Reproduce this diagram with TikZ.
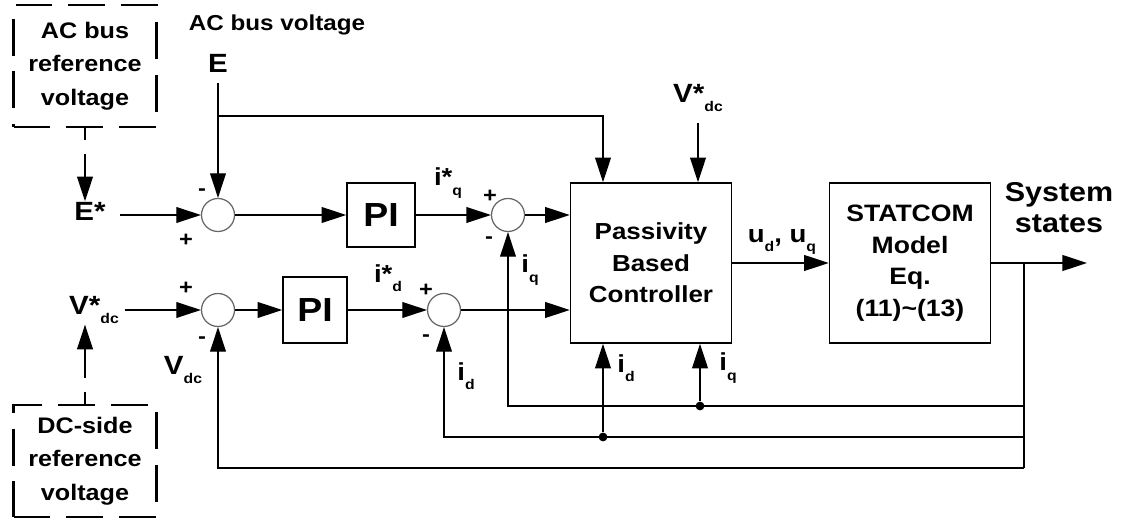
\documentclass[tikz,border=0pt]{standalone}
\usepackage{fontspec}
\setmainfont[FakeStretch=1.12]{Liberation Sans}
\usepackage{tikz}
\usetikzlibrary{arrows.meta}

\newcommand{\lsub}[1]{\raisebox{-5.5pt}{\fontsize{8}{8}\selectfont #1}}

\begin{document}
\begin{tikzpicture}[x=0.02cm, y=-0.02cm, >={Triangle[length=14pt,width=9pt]}, font=\bfseries, line width=0.8pt]
		\tikzset{blk/.style={draw, line width=0.9pt, inner sep=0pt, align=center},
			sumj/.style={draw=black!60, circle, minimum size=0.66cm, inner sep=0pt, line width=0.7pt},
			refbox/.style={draw, line width=1.2pt, dash pattern=on 21pt off 9pt, minimum width=2.86cm, align=center, font=\bfseries\fontsize{12.8}{19}\selectfont},
			refline/.style={->, dash pattern=on 7pt off 8pt on 60pt},
			sgn/.style={inner sep=0pt, font=\bfseries\fontsize{12}{12}\selectfont},
			lbl/.style={inner sep=0pt, font=\bfseries\fontsize{14}{14}\selectfont},
			jdot/.style={circle, fill, inner sep=0pt, minimum size=5pt}}
		\useasboundingbox (0,0) rectangle (1122,519);
		\node[refbox, minimum height=2.44cm] (acref) at (85,66) {AC bus\\reference\\voltage};
		\node[refbox, minimum height=2.24cm] (dcref) at (85,461) {DC-side\\reference\\voltage};
		\node[lbl, font=\bfseries\fontsize{12.3}{12}\selectfont] (acbus) at (277,25) {AC bus voltage};
		\node[lbl, font=\bfseries\fontsize{15}{15}\selectfont] (E) at (218,63) {E};
		\node[lbl, font=\bfseries\fontsize{15}{15}\selectfont] (Eref) at (90,211) {E*};
		\node[lbl, font=\bfseries\fontsize{15}{15}\selectfont] (vdcref) at (94,310) {V*\lsub{dc}};
		\node[sumj] (s1) at (218,215) {};
		\node[sumj] (s4) at (218,310) {};
		\node[sumj] (s2) at (508,215) {};
		\node[sumj] (s3) at (444,310) {};
		\node[blk, minimum width=1.36cm, minimum height=1.28cm, font=\bfseries\fontsize{19}{19}\selectfont] (pi1) at (381,215) {PI};
		\node[blk, minimum width=1.28cm, minimum height=1.32cm, font=\bfseries\fontsize{19}{19}\selectfont] (pi2) at (315,310) {PI};
		\node[blk, minimum width=3.22cm, minimum height=3.2cm, font=\bfseries\fontsize{13.2}{18}\selectfont] (pbc) at (651,263) {Passivity\\Based\\Controller};
		\node[blk, minimum width=3.22cm, minimum height=3.2cm, font=\bfseries\fontsize{13.5}{18}\selectfont] (stat) at (910,263) {STATCOM\\Model\\Eq.\\(11)\textasciitilde(13)};
		\node[lbl, font=\bfseries\fontsize{15}{15}\selectfont] (vdctop) at (698,98) {V*\lsub{dc}};
		\node[lbl] (udq) at (782,242) {u\lsub{d}, u\lsub{q}};
		\node[lbl, align=center, font=\bfseries\fontsize{15.5}{17.5}\selectfont] (sys) at (1059,208) {System\\states};
		\node[lbl] (iqref) at (448,183) {i*\lsub{q}};
		\node[lbl] (idref) at (388,278) {i*\lsub{d}};
		\node[lbl] (iqa) at (530,270) {i\lsub{q}};
		\node[lbl] (ida) at (466,376) {i\lsub{d}};
		\node[lbl] (idb) at (626,368) {i\lsub{d}};
		\node[lbl] (iqb) at (728,368) {i\lsub{q}};
		\node[lbl, font=\bfseries\fontsize{15}{15}\selectfont] (vdcfb) at (183,370) {V\lsub{dc}};
		\node[sgn] at (202,192) {-};
		\node[sgn] at (186,240) {+};
		\node[sgn] at (186,288) {+};
		\node[sgn] at (202,340) {-};
		\node[sgn] at (490,196) {+};
		\node[sgn] at (489,240) {-};
		\node[sgn] at (426,290) {+};
		\node[sgn] at (426,338) {-};
		\coordinate (Eknee) at (218,116);
		\coordinate (Ein) at (603,116);
		\coordinate (split) at (1024,263);
		\coordinate (outend) at (1087,263);
		\coordinate (fb1) at (1024,406);
		\coordinate (fb2) at (1024,437);
		\coordinate (fb3) at (1024,468);
		\node[jdot] (jq) at (700,406) {};
		\node[jdot] (jd) at (603,437) {};
		\draw[->, shorten <=6pt] (E) -- (s1);
		\draw[->] (Eknee) -- (Ein) -- (Ein |- pbc.north);
		\draw[->, shorten <=8pt] (Eref.east |- s1) -- (s1);
		\draw[->, shorten <=3pt] (vdcref.east |- s4) -- (s4);
		\draw[->] (s1) -- (pi1);
		\draw[->] (pi1) -- (s2);
		\draw[->] (s2) -- (s2 -| pbc.west);
		\draw[->] (s4) -- (pi2);
		\draw[->] (pi2) -- (s3);
		\draw[->] (s3) -- (s3 -| pbc.west);
		\draw[->, shorten <=6pt] (vdctop) -- (vdctop |- pbc.north);
		\draw[->] (pbc) -- (stat);
		\draw[->] (stat) -- (outend);
		\draw (split) -- (fb3);
		\draw[->] (fb1) -| (s2.south);
		\draw[->] (fb2) -| (s3.south);
		\draw[->] (fb3) -| (s4.south);
		\draw[->] (jq) -- (jq |- pbc.south);
		\draw[->] (jd) -- (jd |- pbc.south);
		\draw[refline] (acref.south) -- (acref.south |- Eref.north);
		\draw[refline] (dcref.north) -- (dcref.north |- vdcref.south);
	\end{tikzpicture}
\end{document}
